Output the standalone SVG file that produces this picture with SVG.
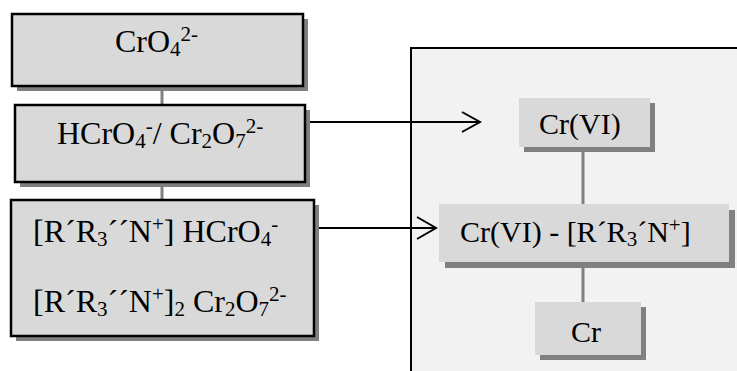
<svg xmlns="http://www.w3.org/2000/svg" width="737" height="371" viewBox="0 0 737 371">
  <style>
    .t { font-family: "Liberation Serif", "Times New Roman", serif; font-size: 30px; fill: #000; }
    .big { font-size: 32px; }
    .s { font-size: 21px; }
    .box { fill: #d9d9d9; stroke: #000; stroke-width: 2.5; }
    .flat { fill: #d9d9d9; }
    .shadow { fill: #808080; }
    .link { stroke: #808080; stroke-width: 3; fill: none; }
    .arrow { stroke: #000; stroke-width: 2; fill: none; }
  </style>

  <!-- right-hand panel -->
  <rect x="411" y="48" width="340" height="340" fill="#f2f2f2" stroke="#000" stroke-width="2"/>

  <!-- connectors -->
  <g id="connectors">
    <line class="link" x1="162" y1="88" x2="162" y2="104"/>
    <line class="link" x1="162" y1="184" x2="162" y2="199"/>
    <line class="link" x1="583" y1="148" x2="583" y2="204"/>
    <line class="link" x1="583" y1="262" x2="583" y2="302"/>
    <line class="arrow" x1="306" y1="122" x2="479" y2="122"/>
    <polyline class="arrow" points="462,112 480,122 462,132"/>
    <line class="arrow" x1="315" y1="228" x2="435" y2="228"/>
    <polyline class="arrow" points="417,217 436,228 417,239"/>
  </g>

  <!-- chromate -->
  <g id="chromate">
    <rect class="shadow" x="17" y="19" width="291" height="72"/>
    <rect class="box" x="12" y="14" width="291" height="72"/>
    <text class="t big" x="115" y="52">CrO<tspan class="s" dy="4">4</tspan><tspan class="s" dy="-15">2-</tspan></text>
  </g>

  <!-- hydrogen chromate / dichromate -->
  <g id="hydrogen-chromate">
    <rect class="shadow" x="20" y="110" width="290" height="77"/>
    <rect class="box" x="15" y="105" width="290" height="77"/>
    <text class="t big" x="57" y="144">HCrO<tspan class="s" dy="4">4</tspan><tspan class="s" dy="-15">-</tspan><tspan dy="11">/ Cr</tspan><tspan class="s" dy="4">2</tspan><tspan dy="-4">O</tspan><tspan class="s" dy="4">7</tspan><tspan class="s" dy="-15">2-</tspan></text>
  </g>

  <!-- ammonium salts -->
  <g id="ammonium-salts">
    <rect class="shadow" x="16" y="205" width="303" height="136"/>
    <rect class="box" x="11" y="200" width="303" height="136"/>
    <text class="t big" x="33" y="242">[R´R<tspan class="s" dy="4">3</tspan><tspan dy="-4">´´N</tspan><tspan class="s" dy="-11">+</tspan><tspan dy="11">] HCrO</tspan><tspan class="s" dy="4">4</tspan><tspan class="s" dy="-15">-</tspan></text>
    <text class="t big" x="33" y="312">[R´R<tspan class="s" dy="4">3</tspan><tspan dy="-4">´´N</tspan><tspan class="s" dy="-11">+</tspan><tspan dy="11">]</tspan><tspan class="s" dy="4">2</tspan><tspan dy="-4"> Cr</tspan><tspan class="s" dy="4">2</tspan><tspan dy="-4">O</tspan><tspan class="s" dy="4">7</tspan><tspan class="s" dy="-15">2-</tspan></text>
  </g>

  <!-- Cr(VI) -->
  <g id="cr-vi">
    <rect class="shadow" x="524" y="103" width="131" height="49"/>
    <rect class="flat" x="519" y="98" width="131" height="49"/>
    <text class="t" x="539" y="134">Cr(VI)</text>
  </g>

  <!-- Cr(VI) complex -->
  <g id="cr-vi-complex">
    <rect class="shadow" x="445" y="210" width="290" height="58"/>
    <rect class="flat" x="439" y="204" width="290" height="58"/>
    <text class="t" x="460" y="242">Cr(VI) - [R´R<tspan class="s" dy="4">3</tspan><tspan dy="-4">´N</tspan><tspan class="s" dy="-10">+</tspan><tspan dy="10">]</tspan></text>
  </g>

  <!-- Cr -->
  <g id="cr">
    <rect class="shadow" x="540" y="307" width="106" height="53"/>
    <rect class="flat" x="535" y="302" width="106" height="53"/>
    <text class="t" x="571" y="342" font-size="32">Cr</text>
  </g>
</svg>
